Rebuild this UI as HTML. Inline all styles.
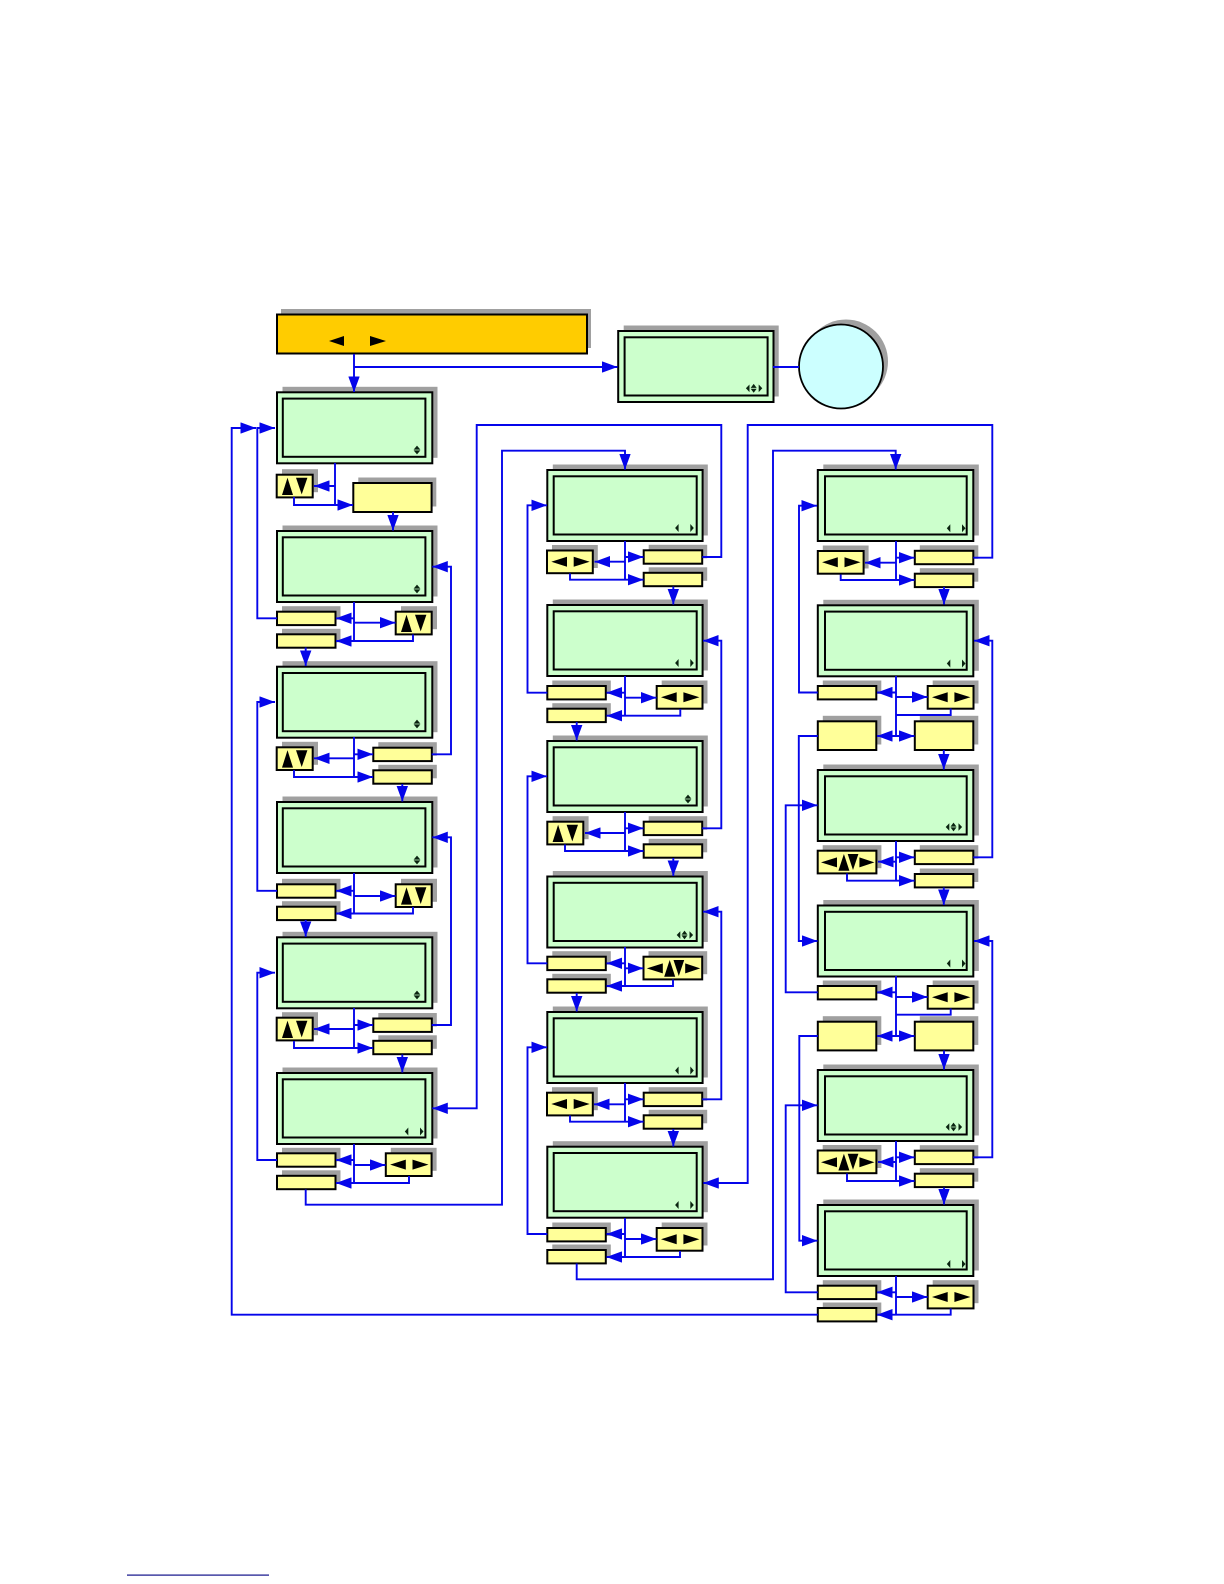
<!DOCTYPE html>
<html lang="en">
<head>
<meta charset="utf-8">
<title>Menu flow diagram</title>
<style>
html,body{margin:0;padding:0;background:#fff}
svg{display:block}
.l path{fill:none;stroke:#0505ea;stroke-width:1.9}
</style>
</head>
<body>
<svg xmlns="http://www.w3.org/2000/svg" width="1224" height="1584" viewBox="0 0 1224 1584">
<defs>
<marker id="a" markerUnits="userSpaceOnUse" markerWidth="15.5" markerHeight="11.4" viewBox="0 0 15.5 11.4" refX="15.5" refY="5.7" orient="auto"><polygon points="0,0 15.5,5.7 0,11.4" fill="#0505ea"/></marker>
<g id="lcd"><rect x="5.5" y="-5.5" width="155" height="71" fill="#a0a0a0"/><rect width="155.3" height="71" fill="#ccffcc" stroke="#000" stroke-width="2"/><rect x="5.8" y="6.3" width="142.6" height="58.2" fill="#ccffcc" stroke="#000" stroke-width="2"/></g>
<g id="lcdm"><rect x="5.5" y="-5.5" width="155" height="71" fill="#a0a0a0"/><rect width="155.3" height="71" fill="#ccffcc" stroke="#000" stroke-width="2"/><rect x="6.4" y="6.3" width="143" height="58.2" fill="#ccffcc" stroke="#000" stroke-width="2"/></g>
<g id="lcdr"><rect x="5.5" y="-5.5" width="155.5" height="71" fill="#a0a0a0"/><rect width="155.5" height="71" fill="#ccffcc" stroke="#000" stroke-width="2"/><rect x="7.2" y="6.3" width="141.7" height="58.2" fill="#ccffcc" stroke="#000" stroke-width="2"/></g>
<g id="iud" fill="#0a2410"><polygon points="-3.4,-0.4 0,-4.4 3.4,-0.4"/><polygon points="-3.4,0.4 0,4.4 3.4,0.4"/></g>
<g id="ilr" fill="#0a2410"><polygon points="-3.2,0 0.3,-4 0.3,4"/><polygon points="12,-4 12,4 15.5,0"/></g>
<g id="ial" fill="#0a2410"><polygon points="-7.8,0 -4.2,-3.8 -4.2,3.8"/><polygon points="8.6,0 5,-3.8 5,3.8"/><polygon points="-3,-0.4 0,-4.4 3,-0.4"/><polygon points="-3,0.4 0,4.4 3,0.4"/></g>
<g id="s"><rect x="5" y="-5.5" width="58.5" height="13.5" fill="#a0a0a0"/><rect width="58.5" height="13.4" fill="#ffff99" stroke="#000" stroke-width="2"/></g>
<g id="big"><rect x="5" y="-5.5" width="58.5" height="28.7" fill="#a0a0a0"/><rect width="58.5" height="28.7" fill="#ffff99" stroke="#000" stroke-width="2"/></g>
<g id="ud"><rect x="5.3" y="-5.5" width="36" height="23" fill="#a0a0a0"/><rect width="36" height="22.7" fill="#ffff99" stroke="#000" stroke-width="2"/><polygon points="5.3,20.3 10.8,3 16.3,20.3" fill="#000"/><polygon points="19.3,3 30.7,3 25,19.7" fill="#000"/></g>
<g id="lr"><rect x="5" y="-5.5" width="45.8" height="23" fill="#a0a0a0"/><rect width="45.8" height="22.7" fill="#ffff99" stroke="#000" stroke-width="2"/><polygon points="4.3,11.3 20,6.3 20,16.3" fill="#000"/><polygon points="26.7,6.3 26.7,16.3 42.7,11.3" fill="#000"/></g>
<g id="al"><rect x="5" y="-5.5" width="58.7" height="23" fill="#a0a0a0"/><rect width="58.7" height="22.7" fill="#ffff99" stroke="#000" stroke-width="2"/><polygon points="3.3,11.7 19.3,6.7 19.3,16.7" fill="#000"/><polygon points="20.7,20 26.2,3.3 31.7,20" fill="#000"/><polygon points="30,3.3 40.7,3.3 35.3,19.3" fill="#000"/><polygon points="41.7,6.7 41.7,16.7 56.7,11.7" fill="#000"/></g>
</defs>

<!-- header -->
<rect x="281" y="309" width="310" height="39" fill="#a0a0a0"/>
<rect x="277" y="314.5" width="310" height="39" fill="#ffcc00" stroke="#000" stroke-width="2"/>
<polygon points="329,341 344,336 344,346" fill="#000"/>
<polygon points="370,336 370,346 386,341" fill="#000"/>

<!-- circle -->
<circle cx="846" cy="361.5" r="42" fill="#a0a0a0"/>
<circle cx="841" cy="366.5" r="42" fill="#ccffff" stroke="#000" stroke-width="1.8"/>

<!-- LCD screens -->
<use href="#lcdm" x="618.2" y="331"/>
<use href="#lcd" x="277" y="392.3"/>
<use href="#lcd" x="277" y="531"/>
<use href="#lcd" x="277" y="666.7"/>
<use href="#lcd" x="277" y="802"/>
<use href="#lcd" x="277" y="937.3"/>
<use href="#lcd" x="277" y="1073"/>
<use href="#lcdm" x="547.3" y="470"/>
<use href="#lcdm" x="547.3" y="605"/>
<use href="#lcdm" x="547.3" y="741"/>
<use href="#lcdm" x="547.3" y="876.5"/>
<use href="#lcdm" x="547.3" y="1012"/>
<use href="#lcdm" x="547.3" y="1146.7"/>
<use href="#lcdr" x="817.8" y="470"/>
<use href="#lcdr" x="817.8" y="605.3"/>
<use href="#lcdr" x="817.8" y="770"/>
<use href="#lcdr" x="817.8" y="905.5"/>
<use href="#lcdr" x="817.8" y="1070"/>
<use href="#lcdr" x="817.8" y="1205"/>

<!-- LCD icons -->
<use href="#iud" x="417" y="450"/>
<use href="#iud" x="417" y="589"/>
<use href="#iud" x="417" y="724"/>
<use href="#iud" x="417" y="860"/>
<use href="#iud" x="417" y="995"/>
<use href="#ilr" x="408" y="1131.5"/>
<use href="#ilr" x="678.3" y="528"/>
<use href="#ilr" x="678.3" y="663"/>
<use href="#iud" x="688" y="799"/>
<use href="#ilr" x="678.3" y="1070.5"/>
<use href="#ilr" x="678.3" y="1205"/>
<use href="#ilr" x="950" y="528.3"/>
<use href="#ilr" x="950" y="663.5"/>
<use href="#ilr" x="950" y="963.5"/>
<use href="#ilr" x="950" y="1264"/>
<use href="#ial" x="753.7" y="388.3"/>
<use href="#ial" x="684.5" y="935"/>
<use href="#ial" x="953.5" y="827"/>
<use href="#ial" x="953.5" y="1127"/>

<!-- Column 1 boxes -->
<use href="#ud" x="276.7" y="474.7"/>
<rect x="358.3" y="477.5" width="78" height="29" fill="#a0a0a0"/>
<rect x="353.3" y="483" width="78.3" height="29" fill="#ffff99" stroke="#000" stroke-width="2"/>
<use href="#s" x="277" y="611.7"/>
<use href="#s" x="277" y="634.3"/>
<use href="#ud" x="395.7" y="611.7"/>
<use href="#ud" x="276.7" y="747.3"/>
<use href="#s" x="373.3" y="747.7"/>
<use href="#s" x="373.3" y="770.3"/>
<use href="#s" x="277" y="884.3"/>
<use href="#s" x="277" y="906.7"/>
<use href="#ud" x="395.7" y="884.3"/>
<use href="#ud" x="276.7" y="1017.7"/>
<use href="#s" x="373.3" y="1018.5"/>
<use href="#s" x="373.3" y="1040.8"/>
<use href="#s" x="277" y="1153.3"/>
<use href="#s" x="277" y="1175.8"/>
<use href="#lr" x="385.8" y="1153.3"/>

<!-- Column 2 boxes -->
<use href="#lr" x="547" y="550.5"/>
<use href="#s" x="643.7" y="550.3"/>
<use href="#s" x="643.7" y="572.8"/>
<use href="#s" x="547.3" y="686"/>
<use href="#s" x="547.3" y="708.7"/>
<use href="#lr" x="656.7" y="686"/>
<use href="#ud" x="547.3" y="821.7"/>
<use href="#s" x="643.7" y="821.7"/>
<use href="#s" x="643.7" y="844.3"/>
<use href="#s" x="547.3" y="956.7"/>
<use href="#s" x="547.3" y="979.3"/>
<use href="#al" x="643.5" y="956.7"/>
<use href="#lr" x="547" y="1092.7"/>
<use href="#s" x="643.7" y="1092.7"/>
<use href="#s" x="643.7" y="1115.3"/>
<use href="#s" x="547.3" y="1228"/>
<use href="#s" x="547.3" y="1250"/>
<use href="#lr" x="656.7" y="1228"/>

<!-- Column 3 boxes -->
<use href="#lr" x="817.8" y="551"/>
<use href="#s" x="914.8" y="550.8"/>
<use href="#s" x="914.8" y="573.7"/>
<use href="#s" x="817.8" y="686"/>
<use href="#lr" x="927.7" y="686"/>
<use href="#big" x="817.8" y="721.3"/>
<use href="#big" x="914.8" y="721.3"/>
<use href="#al" x="817.7" y="850.7"/>
<use href="#s" x="914.8" y="850.7"/>
<use href="#s" x="914.8" y="874"/>
<use href="#s" x="817.8" y="986"/>
<use href="#lr" x="927.7" y="986"/>
<use href="#big" x="817.8" y="1021.7"/>
<use href="#big" x="914.8" y="1021.7"/>
<use href="#al" x="817.7" y="1150.5"/>
<use href="#s" x="914.8" y="1150.7"/>
<use href="#s" x="914.8" y="1173.7"/>
<use href="#s" x="817.8" y="1285.7"/>
<use href="#s" x="817.8" y="1308"/>
<use href="#lr" x="927.7" y="1285.7"/>

<!-- connectors without arrows -->
<g class="l">
<path d="M773 367H799"/>
<path d="M335 463V505"/>
<path d="M354 602V641"/>
<path d="M354 737V777"/>
<path d="M354 873V913.5"/>
<path d="M354 1008V1048"/>
<path d="M354 1144V1183"/>
<path d="M625 541V579.7"/>
<path d="M625 676V715.7"/>
<path d="M625 812V851"/>
<path d="M625 947V986"/>
<path d="M625 1083V1121.7"/>
<path d="M625 1218V1257"/>
<path d="M896 541V580"/>
<path d="M896 676V736"/>
<path d="M950.7 708.5V715H896"/>
<path d="M896 841V880.7"/>
<path d="M896 976V1036"/>
<path d="M950.7 1008.5V1014.7H896"/>
<path d="M896 1141V1181"/>
<path d="M896 1276V1314.7"/>
</g>

<!-- connectors with arrows -->
<g class="l" marker-end="url(#a)">
<path d="M354 354V392"/>
<path d="M354 367H617.5"/>
<!-- col 1 -->
<path d="M335 486H314"/>
<path d="M294 497V505H353"/>
<path d="M393 512V530.5"/>
<path d="M354 618.3H336"/>
<path d="M354 622.7H395.5"/>
<path d="M413 634.5V641H336"/>
<path d="M277 618.3H257.3V428H275"/>
<path d="M817.8 1314.7H231.7V428H256"/>
<path d="M305.7 647.5V666"/>
<path d="M354 758.3H314"/>
<path d="M354 754.3H373"/>
<path d="M294 770V777H373"/>
<path d="M431.7 754.3H451V566.7H432.3"/>
<path d="M402.3 784V801.5"/>
<path d="M277 890.8H257.3V702H275"/>
<path d="M354 890.8H336"/>
<path d="M354 896H395.5"/>
<path d="M413 907V913.5H336"/>
<path d="M305.7 920V936.8"/>
<path d="M431.7 1025H451V837.3H432.3"/>
<path d="M354 1029H314"/>
<path d="M354 1025H373"/>
<path d="M294 1041V1048H373"/>
<path d="M402.3 1054.5V1072.5"/>
<path d="M277 1160H257.3V972.7H275"/>
<path d="M354 1160H336"/>
<path d="M354 1165H385.5"/>
<path d="M409 1176V1183H336"/>
<path d="M702.3 557H721.3V425H476.7V1108.3H432.3"/>
<path d="M305.7 1189.5V1204.7H502V450.7H625V469.5"/>
<!-- col 2 -->
<path d="M625 561.7H594.5"/>
<path d="M625 557H643.5"/>
<path d="M570 573.5V579.7H643.5"/>
<path d="M673.3 586.5V604.5"/>
<path d="M547.3 692.7H527.5V505.3H547"/>
<path d="M625 692.7H606.5"/>
<path d="M625 697.7H656.5"/>
<path d="M680.3 709V715.7H606.5"/>
<path d="M576.7 722V740.5"/>
<path d="M702.3 828.3H721.3V640.7H703"/>
<path d="M625 833H585"/>
<path d="M625 828.3H643.5"/>
<path d="M565 844.5V851H643.5"/>
<path d="M673.3 858V876"/>
<path d="M547.3 963.3H527.5V776.3H547"/>
<path d="M625 963.3H606.5"/>
<path d="M625 968.3H643.3"/>
<path d="M673 979.5V986H606.5"/>
<path d="M576.7 993V1011.5"/>
<path d="M702.3 1099.3H721.3V911.7H703"/>
<path d="M625 1104.3H594"/>
<path d="M625 1099.3H643.5"/>
<path d="M570 1115.5V1121.7H643.5"/>
<path d="M673.3 1129V1146.5"/>
<path d="M547.3 1234H527.5V1047.3H547"/>
<path d="M625 1234H606.5"/>
<path d="M625 1239H656.5"/>
<path d="M680 1251V1257H606.5"/>
<path d="M973.3 557.7H992.3V425H747.7V1183H703.3"/>
<path d="M576.7 1263.5V1279.3H773V450.7H895.7V469.5"/>
<!-- col 3 -->
<path d="M896 562.7H865"/>
<path d="M896 557.7H914.5"/>
<path d="M840.7 574.5V580H914.5"/>
<path d="M944 587V604.5"/>
<path d="M817.8 692.5H799V505.7H817"/>
<path d="M896 692.5H877"/>
<path d="M896 697H927.5"/>
<path d="M896 736H877"/>
<path d="M896 736H914.5"/>
<path d="M943.8 750V769.5"/>
<path d="M817.8 736H798.8V941H817.5"/>
<path d="M817.8 992.3H785.7V805.3H817.5"/>
<path d="M973.3 857.3H992.3V640.7H974"/>
<path d="M896 861.7H878"/>
<path d="M896 857.3H914.5"/>
<path d="M847 873.5V880.7H914.5"/>
<path d="M943.8 887.5V905"/>
<path d="M896 992.3H877"/>
<path d="M896 997H927.5"/>
<path d="M896 1036H877"/>
<path d="M896 1036H914.5"/>
<path d="M944 1050.5V1069.5"/>
<path d="M817.8 1036H799.3V1240.7H817.5"/>
<path d="M817.8 1292.3H785.7V1105.3H817.5"/>
<path d="M973.3 1157.3H992.3V941H974"/>
<path d="M896 1162H878"/>
<path d="M896 1157.3H914.5"/>
<path d="M847 1173.5V1181H914.5"/>
<path d="M944 1187.5V1204.5"/>
<path d="M896 1292.3H877"/>
<path d="M896 1297H927.5"/>
<path d="M950.7 1308.5V1314.7H877"/>
</g>

<!-- footnote rule -->
<rect x="127" y="1574.5" width="142" height="1.2" fill="#10108a"/>
</svg>
</body>
</html>
